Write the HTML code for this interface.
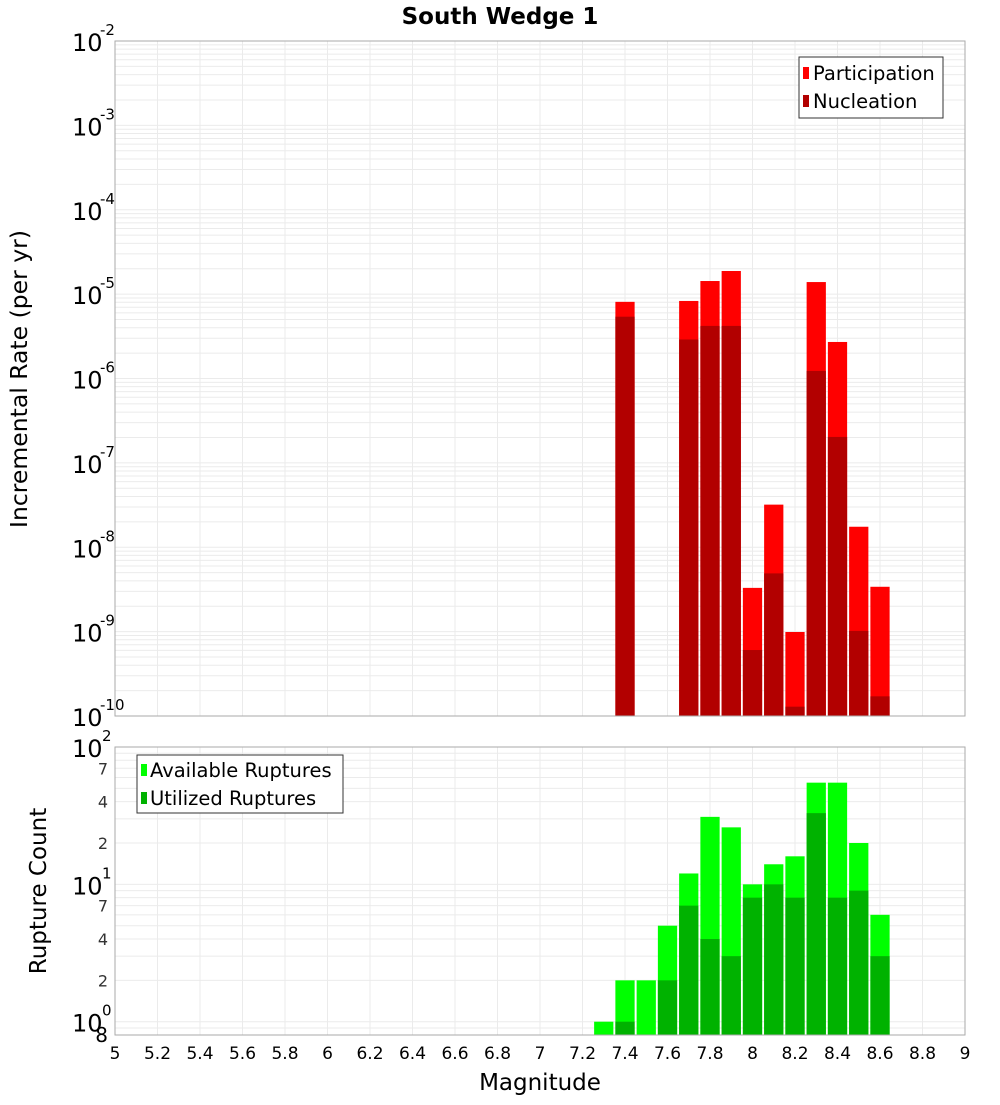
<!DOCTYPE html>
<html><head><meta charset="utf-8"><style>
body{margin:0;background:#fff;font-family:"Liberation Sans","DejaVu Sans",sans-serif}
svg text{font-family:"DejaVu Sans","Liberation Sans",sans-serif}
</style></head><body>
<svg id="chart" width="1000" height="1100" xmlns="http://www.w3.org/2000/svg">
<text x="500" y="24" text-anchor="middle" font-size="23" font-weight="bold">South Wedge 1</text>
<g id="topPanel"></g>
<g id="botPanel"></g>
<text transform="translate(27,379) rotate(-90)" text-anchor="middle" font-size="23.5">Incremental Rate (per yr)</text>
<text transform="translate(46,891) rotate(-90)" text-anchor="middle" font-size="23">Rupture Count</text>
<text x="540" y="1090" text-anchor="middle" font-size="23">Magnitude</text>
<g>
<rect x="799" y="57" width="144" height="61" fill="#fff" stroke="#333"/>
<rect x="803" y="67" width="6" height="12" fill="#ff0000"/>
<text x="813" y="80" font-size="19.5">Participation</text>
<rect x="803" y="95" width="6" height="12" fill="#b20000"/>
<text x="813" y="108" font-size="19.5">Nucleation</text>
</g>
<g>
<rect x="137" y="755" width="206" height="58" fill="#fff" stroke="#333"/>
<rect x="141" y="764" width="6" height="12" fill="#00ff00"/>
<text x="150" y="777" font-size="19.5">Available Ruptures</text>
<rect x="141" y="792" width="6" height="12" fill="#00b200"/>
<text x="150" y="805" font-size="19.5">Utilized Ruptures</text>
</g>
</svg>
<script>
const mags=[7.3,7.4,7.5,7.6,7.7,7.8,7.9,8.0,8.1,8.2,8.3,8.4,8.5,8.6];
const participation=[0,8.1e-6,0,0,8.3e-6,1.43e-5,1.88e-5,3.3e-9,3.2e-8,9.9e-10,1.39e-5,2.71e-6,1.75e-8,3.4e-9];
const nucleation=[0,5.4e-6,0,0,2.9e-6,4.2e-6,4.2e-6,6.05e-10,4.9e-9,1.29e-10,1.23e-6,2.03e-7,1.02e-9,1.71e-10];
const available=[1,2,2,5,12,31,26,10,14,16,55,55,20,6];
const utilized=[0,1,0,2,7,4,3,8,10,8,33,8,9,3];
const xTicks=[5,5.2,5.4,5.6,5.8,6,6.2,6.4,6.6,6.8,7,7.2,7.4,7.6,7.8,8,8.2,8.4,8.6,8.8,9];
const topExps=[-2,-3,-4,-5,-6,-7,-8,-9,-10];
const botExps=[2,1,0];
const botMinor=[2,4,7];

const NS="http://www.w3.org/2000/svg";
const L=115,R=965;
const X=m=>L+(m-5)/4*(R-L);
const T0=41,T1=716,B0=747,B1=1035;
const yTop=v=>T0+(-2-Math.log10(v))/8*(T1-T0);
const yBot=v=>B0+(2-Math.log10(v))/Math.log10(100/0.8)*(B1-B0);
function mk(parent,tag,attrs,text){const e=document.createElementNS(NS,tag);for(const k in attrs)e.setAttribute(k,attrs[k]);if(text!==undefined)e.textContent=text;parent.appendChild(e);return e;}
const topG=document.getElementById('topPanel'),botG=document.getElementById('botPanel');

function panel(g,y0,y1,yf,minE,maxE){
  mk(g,'rect',{x:L,y:y0,width:R-L,height:y1-y0,fill:'#fff'});
  for(let e=minE;e<=maxE;e++)for(let k=1;k<10;k++){const v=k*Math.pow(10,e);const y=yf(v);if(y<y0-0.5||y>y1+0.5)continue;
    const ln=mk(g,'line',{x1:L,x2:R,y1:y,y2:y,stroke:'#ebebeb','stroke-width':1});
    
    }
  xTicks.forEach(t=>{const ln=mk(g,'line',{x1:X(t),x2:X(t),y1:y0,y2:y1,stroke:'#ebebeb'});
    
    });
}
panel(topG,T0,T1,yTop,-10,-3);
panel(botG,B0,B1,yBot,-1,1);

function bars(g,vals,yf,base,color,nm){
  vals.forEach((v,i)=>{if(!v)return;const x=X(mags[i]-0.05)+1,w=X(mags[i]+0.05)-X(mags[i]-0.05)-2;const y=yf(v);
    const r=mk(g,'rect',{x:x,y:y,width:w,height:base-y,fill:color});
    
    });
}
bars(topG,participation,yTop,T1,'#ff0000','participation');
bars(topG,nucleation,yTop,T1,'#b20000','nucleation');
bars(botG,available,yBot,B1,'#00ff00','available');
bars(botG,utilized,yBot,B1,'#00b200','utilized');

mk(topG,'rect',{x:L,y:T0,width:R-L,height:T1-T0,fill:'none',stroke:'#aaa'});
mk(botG,'rect',{x:L,y:B0,width:R-L,height:B1-B0,fill:'none',stroke:'#aaa'});

topExps.forEach(e=>{const y=yTop(Math.pow(10,e));
  const t=mk(topG,'text',{x:72,y:y+10,'font-size':24},'10');
  
  
  mk(topG,'text',{x:100,y:y-6,'font-size':15},String(e));});
botExps.forEach(e=>{const y=yBot(Math.pow(10,e));
  const t=mk(botG,'text',{x:72,y:y+10,'font-size':24},'10');
  
  
  mk(botG,'text',{x:102,y:y-6,'font-size':15},String(e));
  botMinor.forEach(k=>{const v=k*Math.pow(10,e);if(v>=100)return;const yy=yBot(v);
    mk(botG,'text',{x:108,y:yy+6,'font-size':16,'text-anchor':'end',fill:'#333'},String(k));});});
mk(botG,'text',{x:108,y:1042,'font-size':20,'text-anchor':'end'},'8');
xTicks.forEach(t=>{const tx=mk(botG,'text',{x:X(t),y:1059,'font-size':17,'text-anchor':'middle'},String(t));
  
  });
</script>
</body></html>
